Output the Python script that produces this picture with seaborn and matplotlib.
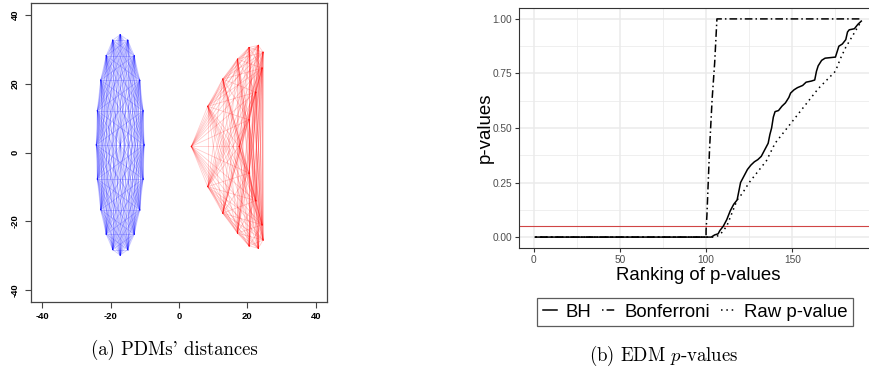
import itertools
import numpy as np
import pandas as pd
import matplotlib
matplotlib.use("Agg")
import matplotlib.pyplot as plt
import seaborn as sns
from matplotlib.lines import Line2D

# ---------------- data: left panel (PDM landmark points) ----------------
blue_x = [-17.2, -15.0, -13.1, -11.5, -10.5, -10.2, -10.5, -11.5, -13.1, -15.0,
          -17.2, -19.4, -21.3, -22.9, -23.9, -24.2, -23.9, -22.9, -21.3, -19.4]
blue_y = [34.2, 32.6, 28.1, 21.0, 12.1, 2.2, -7.7, -16.6, -23.7, -28.2,
          -29.8, -28.2, -23.7, -16.6, -7.7, 2.2, 12.1, 21.0, 28.1, 32.6]
red_x = [3.6, 8.4, 12.8, 17.1, 20.5, 23.2, 24.6, 24.3, 22.5, 20.5,
         17.6, 20.5, 22.5, 24.3, 24.6, 23.2, 20.5, 17.1, 12.8, 8.4]
red_y = [1.75, 13.4, 21.3, 27.1, 30.5, 31.1, 29.1, 24.5, 17.5, 9.5,
         1.75, -6.0, -14.0, -21.0, -25.4, -27.8, -27.1, -23.4, -17.6, -9.9]
left_ticks = [-40, -20, 0, 20, 40]
left_ticklabels = ["-40", "-20", "0", "20", "40"]

# ---------------- data: right panel (sorted p-values) ----------------
bh_rank = [1, 103, 105, 107, 108, 110, 112, 114, 116, 118, 119, 120, 122, 124, 126,
           128, 130, 132, 134, 136, 137, 138, 139, 140, 142, 144, 146, 148, 149, 151,
           153, 156, 158, 161, 163, 164, 165, 167, 169, 175, 176, 177, 179, 181, 182,
           183, 186, 188, 190]
bh_p = [0.0, 0.0, 0.01, 0.015, 0.03, 0.05, 0.08, 0.12, 0.15, 0.17, 0.21, 0.25, 0.28,
        0.31, 0.33, 0.345, 0.355, 0.37, 0.40, 0.43, 0.47, 0.50, 0.55, 0.575, 0.58,
        0.60, 0.615, 0.64, 0.66, 0.675, 0.685, 0.695, 0.71, 0.715, 0.72, 0.76, 0.785,
        0.81, 0.82, 0.825, 0.85, 0.875, 0.885, 0.905, 0.94, 0.95, 0.955, 0.975, 0.99]
bonf_rank = [1, 100, 100, 100.5, 102, 103.5, 105, 106.3, 190]
bonf_p = [0.0, 0.0, 0.03, 0.10, 0.40, 0.63, 0.80, 1.0, 1.0]
raw_rank = [1, 105, 108, 110, 112, 114, 116, 118, 121, 125, 130, 135, 140, 145, 150,
            155, 160, 165, 170, 175, 178, 181, 184, 187, 190]
raw_p = [0.0, 0.0, 0.01, 0.03, 0.05, 0.09, 0.13, 0.17, 0.20, 0.25, 0.30, 0.35, 0.43,
         0.48, 0.53, 0.58, 0.63, 0.68, 0.72, 0.76, 0.82, 0.87, 0.91, 0.95, 0.99]
alpha_level = 0.05
series_names = ["BH", "Bonferroni", "Raw p-value"]

plt.rcParams["mathtext.fontset"] = "cm"

fig = plt.figure(figsize=(8.7, 3.76), dpi=100)


def segments(xs, ys):
    rows = []
    for k, (i, j) in enumerate(itertools.combinations(range(len(xs)), 2)):
        rows.append((k, xs[i], ys[i]))
        rows.append((k, xs[j], ys[j]))
    return pd.DataFrame(rows, columns=["seg", "x", "y"])


# ---------------- left panel ----------------
ax1 = fig.add_axes([31 / 870, (376 - 302) / 376, 296 / 870, 299 / 376])
sns.lineplot(data=segments(blue_x, blue_y), x="x", y="y", units="seg",
             estimator=None, sort=False, color="#0000FF", alpha=0.2,
             lw=0.6, ax=ax1)
sns.lineplot(data=segments(red_x, red_y), x="x", y="y", units="seg",
             estimator=None, sort=False, color="#FF0000", alpha=0.2,
             lw=0.6, ax=ax1)
ax1.set_xlim(-43.3, 43.3)
ax1.set_ylim(-43.4, 43.4)
ax1.set_xticks(left_ticks)
ax1.set_xticklabels(left_ticklabels)
ax1.set_yticks(left_ticks)
ax1.set_yticklabels(left_ticklabels)
ax1.set_xlabel("")
ax1.set_ylabel("")
for s in ax1.spines.values():
    s.set_color("#444444")
    s.set_linewidth(0.9)
ax1.tick_params(length=4.3, width=0.8, color="#444444", pad=3,
                labelsize=6.8)
for lab in ax1.get_xticklabels() + ax1.get_yticklabels():
    lab.set_fontfamily("Liberation Sans")
    lab.set_fontweight("bold")
for lab in ax1.get_yticklabels():
    lab.set_rotation(90)
    lab.set_va("center")
ax1.tick_params(axis="y", pad=4)

# ---------------- right panel ----------------
ax2 = fig.add_axes([519 / 870, (376 - 248) / 376, 358.6 / 870, 240 / 376])
ax2.set_xlim(-8.45, 199.45)
ax2.set_ylim(-0.05, 1.05)
ax2.set_xticks([0, 50, 100, 150])
ax2.set_yticks([0, 0.25, 0.5, 0.75, 1.0])
ax2.set_yticklabels(["0.00", "0.25", "0.50", "0.75", "1.00"])
ax2.set_xticks([25, 75, 125, 175], minor=True)
ax2.set_yticks([0.125, 0.375, 0.625, 0.875], minor=True)
ax2.grid(which="major", color="#EBEBEB", lw=1.1)
ax2.grid(which="minor", color="#EBEBEB", lw=0.55)
ax2.set_axisbelow(True)
ax2.tick_params(which="minor", length=0)
ax2.tick_params(which="major", length=3, width=0.8, color="#333333",
                labelcolor="#4D4D4D", labelsize=7.3, pad=2)
for lab in ax2.get_xticklabels() + ax2.get_yticklabels():
    lab.set_fontfamily("Liberation Sans")
for s in ax2.spines.values():
    s.set_color("#333333")
    s.set_linewidth(0.8)

ax2.axhline(alpha_level, color="#D04545", lw=0.8, zorder=1)

dotdash = (0, (1, 2, 5, 2))
dotted = (0, (1, 2.5))
sns.lineplot(x=bh_rank, y=bh_p, sort=False, estimator=None, color="black",
             lw=1.1, ax=ax2)
sns.lineplot(x=bonf_rank, y=bonf_p, sort=False, estimator=None, color="black",
             lw=1.1, ls=dotdash, ax=ax2)
sns.lineplot(x=raw_rank, y=raw_p, sort=False, estimator=None, color="black",
             lw=1.1, ls=dotted, ax=ax2)

ax2.set_xlabel("Ranking of p-values", fontsize=13.4, family="Liberation Sans")
ax2.set_ylabel("p-values", fontsize=13.4, family="Liberation Sans")
ax2.xaxis.set_label_coords(0.5, (248 - 276) / 240)
ax2.xaxis.label.set_va("center")
ax2.yaxis.set_label_coords((485 - 519) / 358.6, 0.5)
ax2.yaxis.label.set_va("center")

handles = [Line2D([], [], color="black", lw=1.1),
           Line2D([], [], color="black", lw=1.1, ls=dotdash),
           Line2D([], [], color="black", lw=1.1, ls=dotted)]
leg = fig.legend(handles, series_names, loc="center",
                 bbox_to_anchor=(695 / 870, 1 - 312 / 376), ncol=3,
                 frameon=True, fancybox=False, edgecolor="#333333",
                 handlelength=0.75, handletextpad=0.45, columnspacing=0.6,
                 borderpad=0.3, borderaxespad=0,
                 prop={"family": "Liberation Sans", "size": 13.4})
leg.get_frame().set_linewidth(0.9)

# ---------------- captions ----------------
fig.text(174 / 870, 1 - 350 / 376, "(a) PDMs' distances",
         family=["cmr10", "DejaVu Serif"],
         fontsize=13.5, ha="center", va="center")
fig.text(664 / 870, 1 - 356 / 376, "(b) EDM $p$-values",
         family=["cmr10", "DejaVu Serif"],
         fontsize=13.5, ha="center", va="center")

fig.savefig("out.png", dpi=100)
